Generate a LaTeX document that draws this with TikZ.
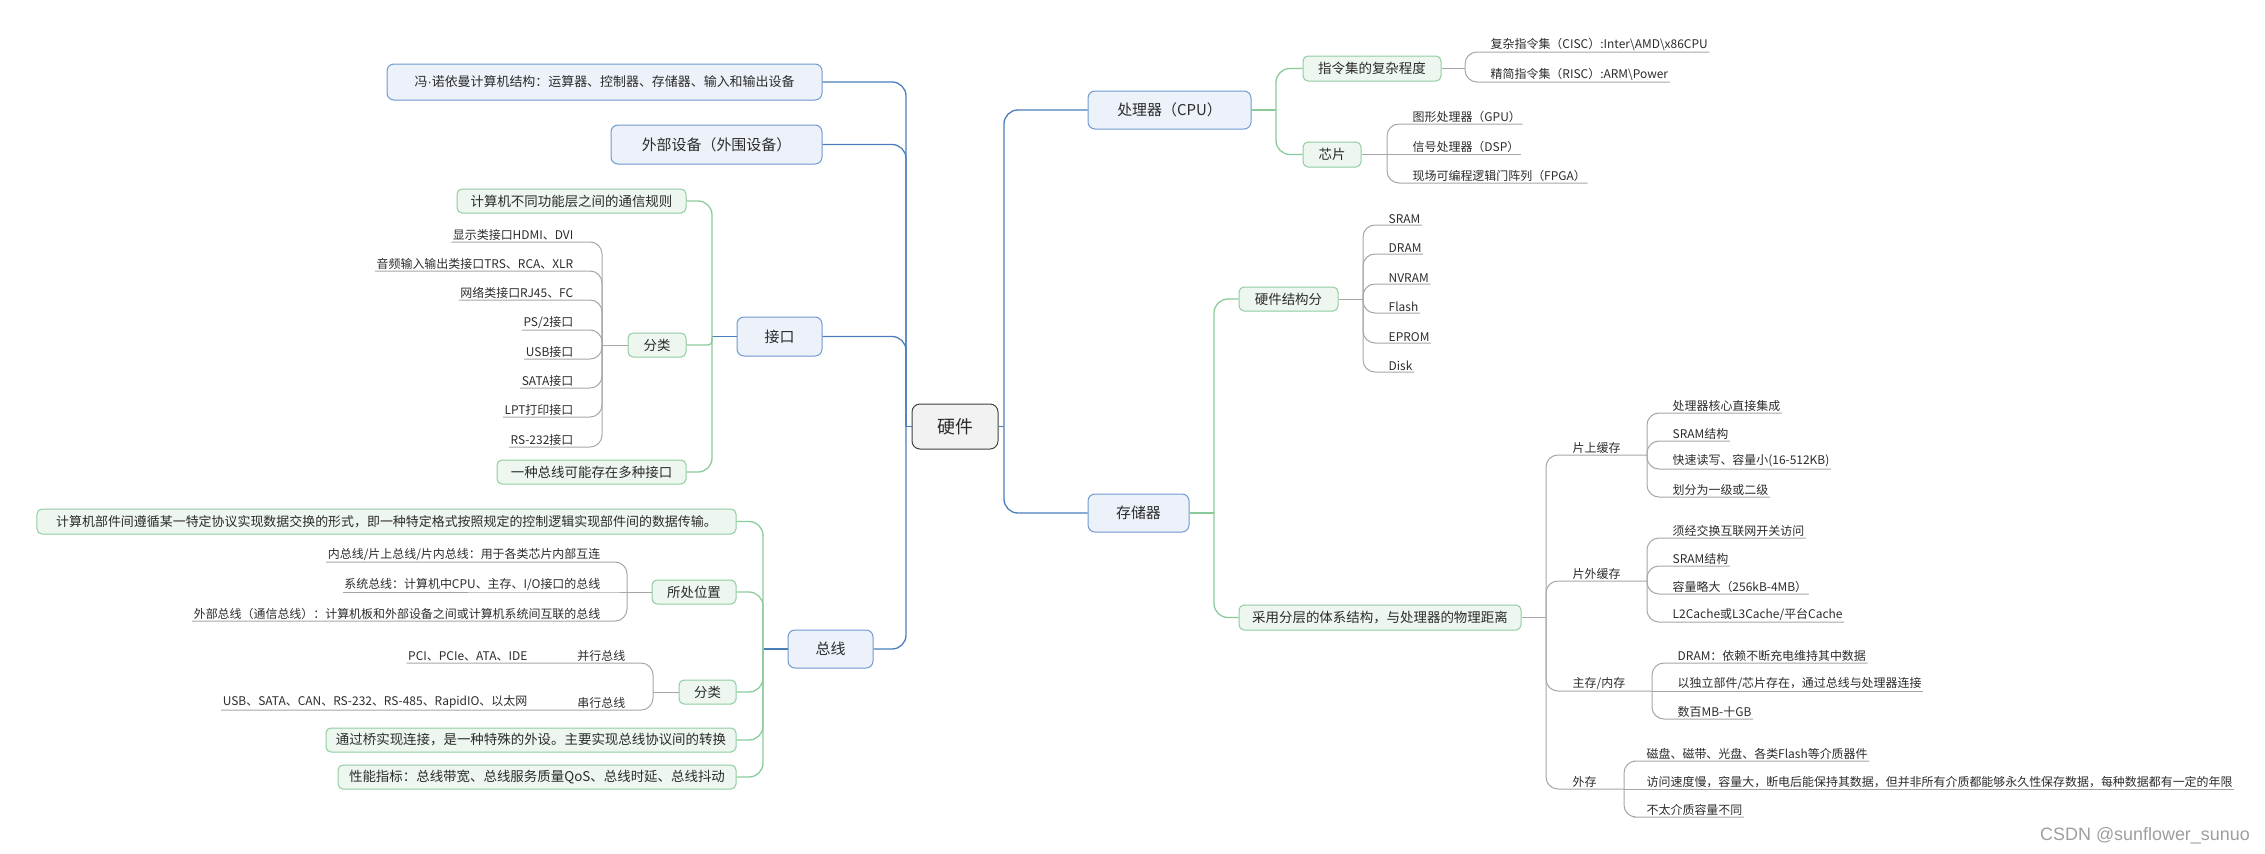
\documentclass[tikz,border=0pt]{standalone}
\usepackage{fontspec}
\setmainfont{Noto Sans CJK SC}
\newfontfamily\wmfont{Liberation Sans}
\definecolor{tblue}{HTML}{4A7EBB}
\definecolor{bfill}{HTML}{EDF2FA}
\definecolor{bdraw}{HTML}{6E9AD0}
\definecolor{grcol}{HTML}{8ACB9B}
\definecolor{gfill}{HTML}{EEF6F0}
\definecolor{gdraw}{HTML}{8FCC9F}
\definecolor{lgray}{HTML}{A6A6A6}
\definecolor{txt}{HTML}{2B2B2B}
\tikzset{
 rootbox/.style={draw=black!75, fill=black!5, rounded corners=8, line width=1bp, minimum width=86bp, minimum height=45bp, inner sep=0, font=\fontsize{18}{20}\selectfont, text=txt},
 bluebox/.style={draw=bdraw, fill=bfill, rounded corners=7, line width=1bp, minimum height=38bp, inner sep=0, font=\fontsize{15}{17}\selectfont, text=txt},
 greenbox/.style={draw=gdraw, fill=gfill, rounded corners=5, line width=1bp, minimum height=24bp, inner sep=0, font=\fontsize{13.5}{15}\selectfont, text=txt},
 leafR/.style={anchor=south west, inner sep=1.5bp, font=\fontsize{12}{13}\selectfont, text=txt},
 leafL/.style={anchor=south east, inner sep=1.5bp, font=\fontsize{12}{13}\selectfont, text=txt},
 bline/.style={draw=tblue, line width=1.3bp, rounded corners=14},
 grline/.style={draw=grcol, line width=1.3bp, rounded corners=14},
 lline/.style={draw=lgray, line width=1bp, rounded corners=12},
}
\begin{document}
\begin{tikzpicture}[x=1bp,y=-1bp]
\useasboundingbox (0,0) rectangle (2265,853);
% ---------- main nodes
\node[rootbox] (root) at (955,426.5) {硬件};
\node[bluebox, minimum width=435bp, minimum height=36bp, font=\fontsize{13}{15}\selectfont] (von) at (604.5,82) {冯{\wmfont ·}诺依曼计算机结构：运算器、控制器、存储器、输入和输出设备};
\node[bluebox, minimum width=211bp, minimum height=39bp] (ext) at (716.5,144.5) {外部设备（外围设备）};
\node[bluebox, minimum width=85bp, minimum height=39bp] (jk) at (779.5,336.5) {接口};
\node[bluebox, minimum width=85bp] (bus) at (830.5,649) {总线};
\node[bluebox, minimum width=163bp] (cpu) at (1169.5,110) {处理器（CPU）};
\node[bluebox, minimum width=101bp] (mem) at (1138.5,513) {存储器};
% ---------- green nodes
\node[greenbox, minimum width=229bp] (txgz) at (571.5,201) {计算机不同功能层之间的通信规则};
\node[greenbox, minimum width=58bp] (jkfl) at (657,345) {分类};
\node[greenbox, minimum width=189bp] (yzzx) at (591.5,472) {一种总线可能存在多种接口};
\node[greenbox, minimum width=699bp, minimum height=25bp, font=\fontsize{13}{15}\selectfont] (busdef) at (386.5,521.5) {计算机部件间遵循某一特定协议实现数据交换的形式，即一种特定格式按照规定的控制逻辑实现部件间的数据传输。};
\node[greenbox, minimum width=84bp] (szwz) at (694,592) {所处位置};
\node[greenbox, minimum width=57bp] (busfl) at (707.5,692) {分类};
\node[greenbox, minimum width=410bp] (qiao) at (531,740) {通过桥实现连接，是一种特殊的外设。主要实现总线协议间的转换};
\node[greenbox, minimum width=398bp] (xnzb) at (537,777) {性能指标：总线带宽、总线服务质量QoS、总线时延、总线抖动};
\node[greenbox, minimum width=138bp, minimum height=25bp] (zlj) at (1372,68.5) {指令集的复杂程度};
\node[greenbox, minimum width=58bp, minimum height=25bp] (xp) at (1332,154.5) {芯片};
\node[greenbox, minimum width=99bp] (yjjg) at (1288.5,299) {硬件结构分};
\node[greenbox, minimum width=282bp, minimum height=25bp] (fc) at (1380,617.5) {采用分层的体系结构，与处理器的物理距离};
% ---------- trunks
\draw[bline] (root.west) -- (906,426.5);
\foreach \n in {von,ext,jk,bus} \draw[bline] (906,426.5) |- (\n.east);
\draw[bline] (root.east) -- (1004,426.5);
\foreach \n in {cpu,mem} \draw[bline] (1004,426.5) |- (\n.west);
% ---------- interface
\draw[bline] (jk.west) -- (712,336.5);
\draw[grline] (712,336.5) |- (txgz.east);
\draw[grline, rounded corners=4] (712,336.5) |- (jkfl.east);
\draw[grline] (712,336.5) |- (yzzx.east);
\node[leafL] (i1) at (575,242) {显示类接口HDMI、DVI};
\node[leafL] (i2) at (575,271) {音频输入输出类接口TRS、RCA、XLR};
\node[leafL] (i3) at (575,300) {网络类接口RJ45、FC};
\node[leafL] (i4) at (575,330) {PS/2接口};
\node[leafL] (i5) at (575,359) {USB接口};
\node[leafL] (i6) at (575,388) {SATA接口};
\node[leafL] (i7) at (575,417) {LPT打印接口};
\node[leafL] (i8) at (575,447) {RS-232接口};
\draw[lline] (jkfl.west) -- (602,345);
\foreach \k in {1,...,8} \draw[lline] (602,345) |- (i\k.south east) -- (i\k.south west);
% ---------- bus
\draw[bline] (bus.west) -- (763,649);
\foreach \n in {busdef,szwz,busfl,qiao,xnzb} \draw[grline] (763,649) |- (\n.east);
\node[leafL] (p1) at (602,562) {内总线/片上总线/片内总线：用于各类芯片内部互连};
\node[leafL] (p2) at (602,592) {系统总线：计算机中CPU、主存、I/O接口的总线};
\node[leafL] (p3) at (602,621) {外部总线（通信总线）：计算机板和外部设备之间或计算机系统间互联的总线};
\draw[lline] (szwz.west) -- (627,592);
\draw[lline] (627,592) |- (p1.south east) -- (p1.south west);
\draw[lline] (627,592) -- (p2.south east) -- (p2.south west);
\draw[lline] (627,592) |- (p3.south east) -- (p3.south west);
\node[leafL] (b1) at (627,663) {并行总线};
\node[leafL] (b1c) at (529,663) {PCI、PCIe、ATA、IDE};
\node[leafL] (b2) at (627,710) {串行总线};
\node[leafL] (b2c) at (529,710) {USB、SATA、CAN、RS-232、RS-485、RapidIO、以太网};
\draw[lline] (busfl.west) -- (653,692);
\draw[lline] (653,692) |- (b1.south east) -- (b1c.south west);
\draw[lline] (653,692) |- (b2.south east) -- (b2c.south west);
% ---------- CPU
\draw[grline] (cpu.east) -- (1276,110);
\draw[grline] (1276,110) |- (zlj.west);
\draw[grline] (1276,110) |- (xp.west);
\node[leafR] (c1) at (1489,52) {复杂指令集（CISC）:Inter\textbackslash AMD\textbackslash x86CPU};
\node[leafR] (c2) at (1489,82) {精简指令集（RISC）:ARM\textbackslash Power};
\draw[lline] (zlj.east) -- (1465,68.5);
\foreach \k in {1,2} \draw[lline] (1465,68.5) |- (c\k.south west) -- (c\k.south east);
\node[leafR] (x1) at (1411,124) {图形处理器（GPU）};
\node[leafR] (x2) at (1411,154.5) {信号处理器（DSP）};
\node[leafR] (x3) at (1411,183) {现场可编程逻辑门阵列（FPGA）};
\draw[lline] (xp.east) -- (1387,154.5);
\draw[lline] (1387,154.5) |- (x1.south west) -- (x1.south east);
\draw[lline] (1387,154.5) -- (x2.south west) -- (x2.south east);
\draw[lline] (1387,154.5) |- (x3.south west) -- (x3.south east);
% ---------- memory
\draw[grline] (mem.east) -- (1214,513);
\draw[grline] (1214,513) |- (yjjg.west);
\draw[grline] (1214,513) |- (fc.west);
\node[leafR] (m1) at (1387,225) {SRAM};
\node[leafR] (m2) at (1387,254) {DRAM};
\node[leafR] (m3) at (1387,284) {NVRAM};
\node[leafR] (m4) at (1387,313) {Flash};
\node[leafR] (m5) at (1387,343) {EPROM};
\node[leafR] (m6) at (1387,372) {Disk};
\draw[lline] (yjjg.east) -- (1363,299);
\foreach \k in {1,...,6} \draw[lline] (1363,299) |- (m\k.south west) -- (m\k.south east);
\draw[lline] (fc.east) -- (1546,617.5);
\node[leafR] (h1) at (1571,455) {片上缓存};
\node[leafR] (h2) at (1571,581) {片外缓存};
\node[leafR] (h3) at (1571,691) {主存/内存};
\node[leafR] (h4) at (1571,789) {外存};
\draw[lline] (1546,617.5) |- (h1.south west) -- (1647,455);
\draw[lline] (1546,617.5) |- (h2.south west) -- (1647,581);
\draw[lline] (1546,617.5) |- (h3.south west) -- (1652,691);
\draw[lline] (1546,617.5) |- (h4.south west) -- (1624,789);
\node[leafR] (a1) at (1671,413) {处理器核心直接集成};
\node[leafR] (a2) at (1671,441) {SRAM结构};
\node[leafR] (a3) at (1671,469) {快速读写、容量小(16-512KB)};
\node[leafR] (a4) at (1671,497) {划分为一级或二级};
\foreach \k in {1,...,4} \draw[lline] (1647,455) |- (a\k.south west) -- (a\k.south east);
\node[leafR] (o1) at (1671,538) {须经交换互联网开关访问};
\node[leafR] (o2) at (1671,566) {SRAM结构};
\node[leafR] (o3) at (1671,594) {容量略大（256kB-4MB）};
\node[leafR] (o4) at (1671,622) {L2Cache或L3Cache/平台Cache};
\foreach \k in {1,...,4} \draw[lline] (1647,581) |- (o\k.south west) -- (o\k.south east);
\node[leafR] (r1) at (1676,663) {DRAM：依赖不断充电维持其中数据};
\node[leafR] (r2) at (1676,691) {以独立部件/芯片存在，通过总线与处理器连接};
\node[leafR] (r3) at (1676,719) {数百MB-十GB};
\draw[lline] (1652,691) |- (r1.south west) -- (r1.south east);
\draw[lline] (1652,691) -- (r2.south west) -- (r2.south east);
\draw[lline] (1652,691) |- (r3.south west) -- (r3.south east);
\node[leafR] (e1) at (1645,761) {磁盘、磁带、光盘、各类Flash等介质器件};
\node[leafR] (e2) at (1645,789) {访问速度慢，容量大，断电后能保持其数据，但并非所有介质都能够永久性保存数据，每种数据都有一定的年限};
\node[leafR] (e3) at (1645,817) {不太介质容量不同};
\draw[lline] (1624,789) |- (e1.south west) -- (e1.south east);
\draw[lline] (1624,789) -- (e2.south west) -- (e2.south east);
\draw[lline] (1624,789) |- (e3.south west) -- (e3.south east);
% ---------- watermark
\node[anchor=base east, inner sep=0, font=\wmfont\fontsize{18}{20}\selectfont, text=black!38] (wm) at (2250,840) {CSDN @sunflower\_sunuo};
\end{tikzpicture}
\end{document}
